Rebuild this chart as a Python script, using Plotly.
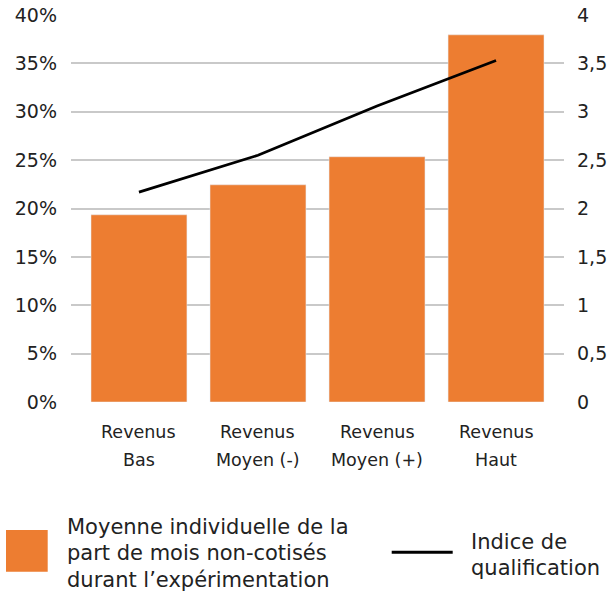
import plotly.graph_objects as go

# ---- data ----
categories = ["Revenus Bas", "Revenus Moyen (-)", "Revenus Moyen (+)", "Revenus Haut"]
cat_line1 = ["Revenus", "Revenus", "Revenus", "Revenus"]
cat_line2 = ["Bas", "Moyen (-)", "Moyen (+)", "Haut"]
part_non_cotises = [19.35, 22.45, 25.35, 37.95]   # % (left axis)
indice_qualif = [2.17, 2.55, 3.06, 3.53]           # right axis
left_ticks = [0, 5, 10, 15, 20, 25, 30, 35, 40]
left_ticktext = ["0%", "5%", "10%", "15%", "20%", "25%", "30%", "35%", "40%"]
right_ticks = [0, 0.5, 1, 1.5, 2, 2.5, 3, 3.5, 4]
right_ticktext = ["0", "0,5", "1", "1,5", "2", "2,5", "3", "3,5", "4"]
legend_bar_lines = ["Moyenne individuelle de la", "part de mois non-cotisés",
                    "durant l’expérimentation"]
legend_line_lines = ["Indice de", "qualification"]

ORANGE = "#ED7D31"
TXT = "#222222"
FONT = "DejaVu Sans"

W, H = 613, 593
L, R, T, B = 71, 49, 15, 191
PW, PH = W - L - R, H - T - B


def px(x):
    return (x - L) / PW


def py(y):
    return (H - B - y) / PH


fig = go.Figure()
fig.add_trace(go.Bar(x=categories, y=part_non_cotises, marker_color=ORANGE,
                     width=0.806, showlegend=False, hoverinfo="skip"))
fig.add_trace(go.Scatter(x=categories, y=indice_qualif, mode="lines", yaxis="y2",
                         line=dict(color="#000000", width=2.8), showlegend=False,
                         hoverinfo="skip"))

annotations = []
for c, l1, l2 in zip(categories, cat_line1, cat_line2):
    annotations.append(dict(x=c, xref="x", y=0, yref="paper", text=l1, showarrow=False,
                            yanchor="middle", yshift=-(432.4 - (H - B)),
                            font=dict(size=17.5, color=TXT, family=FONT)))
    annotations.append(dict(x=c, xref="x", y=0, yref="paper", text=l2, showarrow=False,
                            yanchor="middle", yshift=-(460.4 - (H - B)),
                            font=dict(size=17.5, color=TXT, family=FONT)))

# legend (custom)
shapes = [
    dict(type="rect", xref="paper", yref="paper", x0=px(6), x1=px(47.7), y0=py(571.7), y1=py(530),
         fillcolor=ORANGE, line=dict(width=0)),
    dict(type="line", xref="paper", yref="paper", x0=px(391.7), x1=px(452.7), y0=py(552.3), y1=py(552.3),
         line=dict(color="#000000", width=3)),
]
for i, t in enumerate(legend_bar_lines):
    annotations.append(dict(x=px(65), xref="paper", xanchor="left", y=py(526.7 + i * 26.7), yref="paper",
                            yanchor="middle", text=t, showarrow=False,
                            font=dict(size=21, color=TXT, family=FONT)))
for i, t in enumerate(legend_line_lines):
    annotations.append(dict(x=px(469), xref="paper", xanchor="left", y=py(541.7 + i * 26.7), yref="paper",
                            yanchor="middle", text=t, showarrow=False,
                            font=dict(size=21, color=TXT, family=FONT)))

fig.update_layout(
    width=W, height=H,
    margin=dict(l=L, r=R, t=T, b=B, pad=0, autoexpand=False),
    paper_bgcolor="white", plot_bgcolor="white",
    font=dict(family=FONT, size=18, color=TXT),
    separators=",.",
    xaxis=dict(range=[-0.571, 3.571], showticklabels=False, showgrid=False, zeroline=False,
               showline=False, ticks="", automargin=False, fixedrange=True),
    yaxis=dict(range=[0, 40], tickvals=left_ticks, ticktext=left_ticktext, showgrid=True,
               gridcolor="#C9C9C9", gridwidth=1.5, zeroline=False, showline=False, ticks="",
               ticklabelstandoff=13, automargin=False, fixedrange=True,
               tickfont=dict(size=19, color=TXT, family=FONT)),
    yaxis2=dict(range=[0, 4], tickvals=right_ticks, ticktext=right_ticktext, overlaying="y",
                side="right", showgrid=False, zeroline=False, showline=False, ticks="",
                ticklabelstandoff=12, automargin=False, fixedrange=True,
                tickfont=dict(size=19, color=TXT, family=FONT)),
    shapes=shapes,
    annotations=annotations,
)

fig.write_html("out.html", config={"displayModeBar": False},
               post_script="document.body.style.margin='0';")
